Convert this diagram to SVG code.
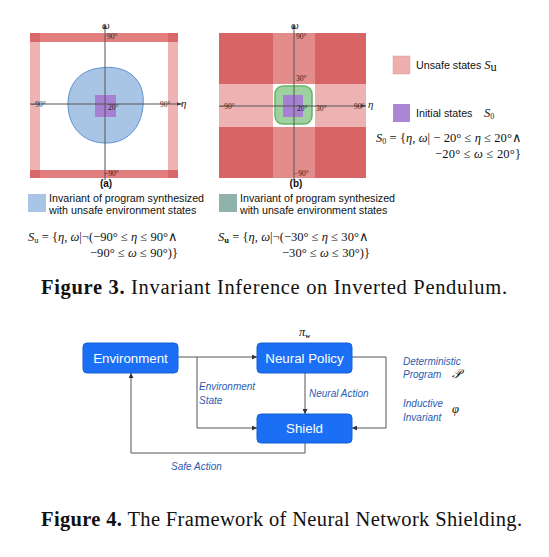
<svg xmlns="http://www.w3.org/2000/svg" width="549" height="557" viewBox="0 0 549 557">
<defs>
<marker id="arr" viewBox="0 0 6 6" refX="6" refY="3" markerWidth="5" markerHeight="5" orient="auto" markerUnits="userSpaceOnUse">
<path d="M0,0 L6,3 L0,6 z" fill="#333"/>
</marker>
<marker id="ax" viewBox="0 0 6 6" refX="6" refY="3" markerWidth="5" markerHeight="5" orient="auto" markerUnits="userSpaceOnUse">
<path d="M0,0.8 L6,3 L0,5.2 z" fill="#444"/>
</marker>
</defs>
<style>
.ax{stroke:#555;stroke-width:1;fill:none}
.tk{font-family:"Liberation Serif",serif;font-size:7.5px;fill:#222}
.av{font-family:"Liberation Serif",serif;font-style:italic;font-size:11px;fill:#222}
.lg{font-family:"Liberation Sans",Arial,sans-serif;font-size:10.7px;fill:#111}
.lb{font-family:"Liberation Sans",Arial,sans-serif;font-size:10px;font-weight:bold;fill:#111}
.m{font-family:"Liberation Serif",serif;font-size:12.5px;fill:#111}
.mi{font-style:italic}
.cap{font-family:"Liberation Serif",serif;font-size:20.5px;fill:#111}
.box{fill:#1b6ff4;stroke:#1560d6;stroke-width:1}
.bt{font-family:"Liberation Sans",Arial,sans-serif;font-size:13.3px;fill:#fff;text-anchor:middle}
.it{font-family:"Liberation Sans",Arial,sans-serif;font-style:italic;font-size:10px;fill:#2b5bb0}
.cn{stroke:#555;stroke-width:1;fill:none}
</style>

<!-- Panel (a) -->
<g id="panel-a">
<rect x="30" y="33" width="148" height="145" fill="#fff"/>
<rect x="30" y="33" width="10" height="145" fill="#eeb2b2"/>
<rect x="168" y="33" width="10" height="145" fill="#eeb2b2"/>
<rect x="30" y="33" width="148" height="9" fill="#e27e7e"/>
<rect x="30" y="170" width="148" height="8" fill="#e27e7e"/>
<rect x="30" y="33" width="10" height="9" fill="#d86868"/>
<rect x="168" y="33" width="10" height="9" fill="#d86868"/>
<rect x="30" y="170" width="10" height="8" fill="#d86868"/>
<rect x="168" y="170" width="10" height="8" fill="#d86868"/>
<path d="M100,68 C125,64 146,78 143,106 C141,128 127,144 104,143 C82,142 68,126 68,104 C68,84 80,70 100,68 Z" fill="#a9c5e6" stroke="#5d90d2" stroke-width="1"/>
<rect x="95" y="95" width="21" height="22" fill="#a681d3"/>
<line class="ax" x1="105" y1="180" x2="105" y2="24" marker-end="url(#ax)"/>
<line class="ax" x1="30" y1="104" x2="182" y2="104" marker-end="url(#ax)"/>
<text class="av" x="102" y="29" font-size="9">ω</text>
<text class="tk" x="107" y="39">90°</text>
<text class="tk" x="31" y="107">−90°</text>
<text class="tk" x="108" y="110">20°</text>
<text class="tk" x="160" y="107">90°</text>
<text class="av" x="181" y="107">η</text>
<text class="tk" x="104" y="176">−90°</text>
<text class="lb" x="106" y="187" text-anchor="middle">(a)</text>
</g>

<!-- Panel (b) -->
<g id="panel-b">
<rect x="219" y="33" width="54" height="51" fill="#d86565"/>
<rect x="315" y="33" width="51" height="51" fill="#d86565"/>
<rect x="219" y="127" width="54" height="51" fill="#d86565"/>
<rect x="315" y="127" width="51" height="51" fill="#d86565"/>
<rect x="273" y="33" width="42" height="51" fill="#e38c8c"/>
<rect x="273" y="127" width="42" height="51" fill="#e38c8c"/>
<rect x="219" y="84" width="54" height="43" fill="#edb2b2"/>
<rect x="315" y="84" width="51" height="43" fill="#edb2b2"/>
<rect x="273" y="84" width="42" height="43" fill="#fff"/>
<rect x="275" y="86" width="37" height="38" rx="8" fill="#9fd09f" stroke="#68b468" stroke-width="1.5"/>
<rect x="283" y="95" width="20" height="22" fill="#a681d3"/>
<line class="ax" x1="294" y1="180" x2="294" y2="24" marker-end="url(#ax)"/>
<line class="ax" x1="219" y1="106" x2="366" y2="106" marker-end="url(#ax)"/>
<text class="av" x="291" y="29" font-size="9">ω</text>
<text class="tk" x="296" y="39">90°</text>
<text class="tk" x="296" y="81">30°</text>
<text class="tk" x="220" y="109">−90°</text>
<text class="tk" x="297" y="111">20°</text>
<text class="tk" x="316" y="111">30°</text>
<text class="tk" x="354" y="109">90°</text>
<text class="av" x="368" y="108">η</text>
<text class="tk" x="294" y="176">−90°</text>
<text class="lb" x="296" y="187" text-anchor="middle">(b)</text>
</g>

<!-- Legend right -->
<g id="legend-unsafe">
<rect x="393" y="56" width="17" height="18" fill="#edaeae" stroke="#e29a9a" stroke-width="0.5"/>
<text class="lg" x="416" y="69" font-size="10">Unsafe states <tspan class="m mi" font-size="12">S</tspan><tspan class="m" font-size="8" dy="2">u</tspan></text>
</g>
<g id="legend-initial">
<rect x="393" y="104" width="17" height="18" fill="#ab86d6"/>
<text class="lg" x="416" y="117" font-size="10">Initial states</text>
<text class="m mi" x="484" y="117" font-size="12.5">S<tspan font-size="8" dy="2" font-style="normal">0</tspan></text>
<text class="m" x="376" y="142" textLength="146" lengthAdjust="spacing"><tspan class="mi">S</tspan><tspan font-size="8" dy="2">0</tspan><tspan dy="-2"> = {</tspan><tspan class="mi">η, ω</tspan>| − 20° ≤ <tspan class="mi">η</tspan> ≤ 20°∧</text>
<text class="m" x="435" y="158" textLength="86" lengthAdjust="spacing">−20° ≤ <tspan class="mi">ω</tspan> ≤ 20°}</text>
</g>

<!-- Legend (a) -->
<g id="legend-a">
<rect x="28" y="194" width="18" height="18" fill="#a9c5e6"/>
<text class="lg" x="49" y="202">Invariant of program synthesized</text>
<text class="lg" x="49" y="214">with unsafe environment states</text>
<text class="m" x="28" y="241" textLength="150" lengthAdjust="spacing"><tspan class="mi">S</tspan><tspan font-size="8.5" dy="2">u</tspan><tspan dy="-2"> = {</tspan><tspan class="mi">η, ω</tspan>|¬(−90° ≤ <tspan class="mi">η</tspan> ≤ 90°∧</text>
<text class="m" x="90" y="257" textLength="88" lengthAdjust="spacing">−90° ≤ <tspan class="mi">ω</tspan> ≤ 90°)}</text>
</g>

<!-- Legend (b) -->
<g id="legend-b">
<rect x="219" y="194" width="18" height="18" fill="#8fb3aa"/>
<text class="lg" x="240" y="202">Invariant of program synthesized</text>
<text class="lg" x="240" y="214">with unsafe environment states</text>
<text class="m" x="218" y="241" textLength="151" lengthAdjust="spacing"><tspan class="mi">S</tspan><tspan font-size="8.5" dy="2" font-weight="bold">u</tspan><tspan dy="-2"> = {</tspan><tspan class="mi">η, ω</tspan>|¬(−30° ≤ <tspan class="mi">η</tspan> ≤ 30°∧</text>
<text class="m" x="282" y="257" textLength="88" lengthAdjust="spacing">−30° ≤ <tspan class="mi">ω</tspan> ≤ 30°)}</text>
</g>

<text class="cap" x="41" y="294" textLength="466" lengthAdjust="spacing"><tspan font-weight="bold">Figure 3.</tspan> Invariant Inference on Inverted Pendulum.</text>

<!-- Figure 4 -->
<g id="connectors">
<line class="cn" x1="178" y1="357" x2="257" y2="357" marker-end="url(#arr)"/>
<polyline class="cn" points="197,357 197,428 257,428" marker-end="url(#arr)"/>
<line class="cn" x1="305" y1="373" x2="305" y2="414" marker-end="url(#arr)"/>
<polyline class="cn" points="352,357 386,357 386,428 352,428" marker-end="url(#arr)"/>
<polyline class="cn" points="305,443 305,453 131,453 131,373" marker-end="url(#arr)"/>
<text class="it" x="199" y="390">Environment</text>
<text class="it" x="199" y="404">State</text>
<text class="it" x="309" y="397">Neural Action</text>
<text class="it" x="171" y="470">Safe Action</text>
</g>
<g id="environment">
<rect class="box" x="83" y="343" width="95" height="30" rx="4"/>
<text class="bt" x="130.5" y="362.5">Environment</text>
</g>
<g id="neural-policy">
<rect class="box" x="257" y="343" width="95" height="30" rx="4"/>
<text class="bt" x="304.5" y="362.5">Neural Policy</text>
<text class="m mi" x="299" y="336" font-size="10">π<tspan font-size="7" dy="2" font-weight="bold" font-style="normal">w</tspan></text>
</g>
<g id="shield">
<rect class="box" x="257" y="414" width="95" height="29" rx="4"/>
<text class="bt" x="304.5" y="433">Shield</text>
</g>
<g id="program-labels">
<text class="it" x="403" y="365">Deterministic</text>
<text class="it" x="403" y="378">Program</text>
<text class="m mi" x="452" y="378" font-size="11">𝒫</text>
<text class="it" x="403" y="407">Inductive</text>
<text class="it" x="403" y="421">Invariant</text>
<text class="m mi" x="452" y="413" font-size="11">φ</text>
</g>

<text class="cap" x="41" y="526" textLength="481" lengthAdjust="spacing"><tspan font-weight="bold">Figure 4.</tspan> The Framework of Neural Network Shielding.</text>
</svg>
